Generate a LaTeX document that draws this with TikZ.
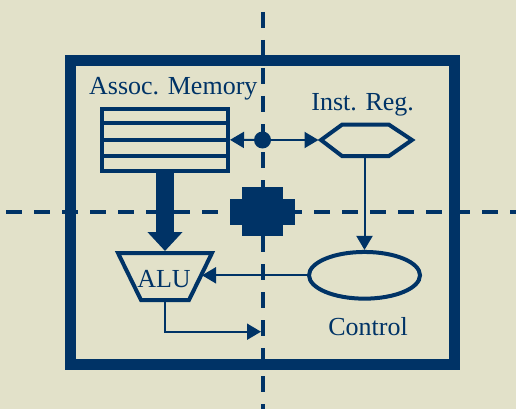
\documentclass[tikz,border=0pt]{standalone}
\usepackage{fontspec}
\setmainfont{Liberation Serif}
\usetikzlibrary{arrows.meta,shapes.geometric}
\definecolor{bg}{RGB}{226,225,201}
\definecolor{navy}{RGB}{0,51,102}
\begin{document}
\begin{tikzpicture}[x=1pt,y=-1pt,
  every node/.style={text=navy},
  part/.style={draw=navy, line width=4pt},
  link/.style={draw=navy, line width=2pt, -{Triangle[length=14pt,width=16pt]}},
  guide/.style={draw=navy, line width=4pt, dash pattern=on 16pt off 12pt},
  nametext/.style={font=\fontsize{26}{30}\selectfont, inner sep=0pt, anchor=base}]

% canvas
\fill[bg] (0,0) rectangle (516,409);
\useasboundingbox (0,0) rectangle (516,409);

% partition lines
\draw[guide] (262.5,-16) -- (262.5,425);
\draw[guide] (-22,212) -- (530,212);

% processor outline
\draw[navy, line width=11pt] (70.5,60.5) rectangle (454.5,364);

% associative memory
\node[part, minimum width=126pt, minimum height=62.3pt, inner sep=0pt] (mem) at (165,139.85) {};
\foreach \yy in {123,139.7,156}
  \draw[part] (102,\yy) -- (228,\yy);
\node[nametext] (memlbl) at (173.3,95) {Assoc. Memory};

% instruction register
\draw[part, line join=miter] (321,140) -- (342,124.7) -- (389,124.7) -- (412,140)
  -- (389,156) -- (342,156) -- cycle;
\coordinate (irW) at (318.5,140);
\coordinate (irS) at (364.5,158);
\node[nametext] (irlbl) at (362.7,110.7) {Inst. Reg.};

% junction on the bus
\node[circle, fill=navy, inner sep=0pt, minimum size=17pt] (hub) at (262.5,140) {};

% crossing block
\fill[navy] (230,199) rectangle (295,225);
\fill[navy] (242,187) rectangle (283,236);

% control unit
\node[part, ellipse, minimum width=111pt, minimum height=46.7pt, inner sep=0pt] (ctl) at (364.5,275.3) {};
\node[nametext] (ctllbl) at (368,335.7) {Control};

% ALU
\draw[part, line join=miter] (118,253) -- (212,253) -- (189,300) -- (141,300) -- cycle;
\coordinate (aluN) at (165,251);
\coordinate (aluS) at (165,302);
\coordinate (aluE) at (202,275.3);
\node[nametext] (alulbl) at (164,287) {ALU};
\coordinate (busIn) at (261,331.7);

% connections
\draw[link] (hub) -- (mem.east);
\draw[link] (hub) -- (irW);
\draw[link] (irS) -- (ctl.north);
\draw[link] (ctl.west) -- (aluE);
\draw[navy, line width=18pt, -{Triangle[length=19pt,width=34pt]}] (mem.south) -- (aluN);
\draw[link] (aluS) |- (busIn);
\end{tikzpicture}
\end{document}
